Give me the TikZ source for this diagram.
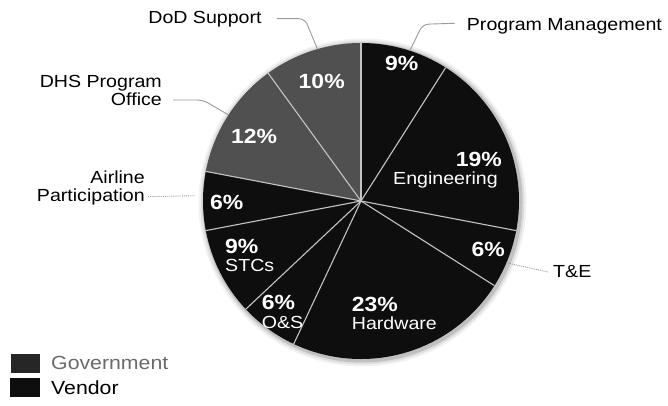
\documentclass[tikz,border=0pt]{standalone}
\usepackage{fontspec}
\setmainfont{Liberation Sans}[FakeStretch=1.12]
\usetikzlibrary{calc}
\definecolor{gov}{HTML}{505050}
\definecolor{govkeyc}{HTML}{262626}
\definecolor{ven}{HTML}{0E0E0E}
\definecolor{sepc}{HTML}{C4C4C4}
\definecolor{lead}{HTML}{9A9A9A}
\definecolor{govtext}{HTML}{6A6A6A}
\begin{document}
\begin{tikzpicture}[x=1pt,y=1pt,
  outer/.style={font=\fontsize{17.5}{18.5}\selectfont, inner sep=0pt, text=black},
  pct/.style={font=\fontsize{20.5}{20.5}\selectfont\bfseries, text=white, inner sep=0pt, anchor=base},
  sname/.style={font=\fontsize{17.5}{17.5}\selectfont, text=white, inner sep=0pt},
  legtext/.style={font=\fontsize{19}{19}\selectfont, inner sep=0pt, anchor=base west},
  leader/.style={draw=lead, line width=0.9pt, rounded corners=6pt},
  dotleader/.style={draw=lead, line width=0.9pt, densely dotted},
  sepline/.style={draw=sepc, line width=1.1pt},
  govslice/.style={fill=gov},
  venslice/.style={fill=ven},
]
\useasboundingbox (0,0) rectangle (668,406);
\coordinate (c) at (361,205);
% soft shadow
\foreach \w/\o in {6/0.05,4/0.08,2/0.14}
  \fill[black, opacity=\o] ($(c)+(1.5,-1.5)$) circle[radius={158pt+\w pt}];
% slices
\foreach \a/\b/\s in {57.6/90/venslice, -10.8/57.6/venslice, -32.4/-10.8/venslice,
  -115.2/-32.4/venslice, -136.8/-115.2/venslice, -169.2/-136.8/venslice,
  169.2/190.8/venslice, 126/169.2/govslice, 90/126/govslice}
  \path[\s] (c) -- +(\a:158pt) arc[start angle=\a, end angle=\b, radius=158pt] -- cycle;
% separators
\foreach \a in {90,57.6,-10.8,-32.4,-115.2,-136.8,-169.2,169.2,126}
  \draw[sepline] (c) -- +(\a:158pt);
% slice labels
\node[pct] (p9) at (401.7,335.5) {9\%};
\node[pct] (p10) at (321.7,317) {10\%};
\node[pct] (p12) at (254,262) {12\%};
\node[pct, anchor=base east] (p19) at (502,239) {19\%};
\node[sname, anchor=base east] (l19) at (498,221.7) {Engineering};
\node[pct] (p6te) at (488.3,149.3) {6\%};
\node[pct, anchor=base west] (p23) at (351.7,94.3) {23\%};
\node[sname, anchor=base west] (l23) at (351.7,76) {Hardware};
\node[pct, anchor=base west] (p6os) at (261.7,96) {6\%};
\node[sname, anchor=base west] (l6os) at (261.7,77.7) {O\&S};
\node[pct, anchor=base west] (p9s) at (225,152) {9\%};
\node[sname, anchor=base west] (l9s) at (225,134.3) {STCs};
\node[pct] (p6a) at (226.7,196) {6\%};
% outer labels
\node[outer, anchor=base] (dod) at (205,382) {DoD Support};
\node[outer, anchor=base west] (pm) at (466.7,375) {Program Management};
\node[outer, align=right, anchor=base east] (dhs) at (162,300) {DHS Program\\Office};
\node[outer, align=right, anchor=base east] (air) at (145,204.3) {Airline\\Participation};
\node[outer, anchor=base west] (te) at (553,128) {T\&E};
% leader ends on the pie
\coordinate (dodEnd) at ($(c)+(106:158pt)$);
\coordinate (pmEnd) at ($(c)+(72:158pt)$);
\coordinate (dhsEnd) at ($(c)+(147:158pt)$);
\coordinate (airEnd) at ($(c)+(178:158pt)$);
\coordinate (teEnd) at ($(c)+(-23:158pt)$);
% leaders
\draw[leader] ($(dod.east)+(15,1)$) -- ++(28,0) -- (dodEnd);
\draw[leader] ($(pm.west)+(-12,3.5)$) -- ++(-32,-1) -- (pmEnd);
\draw[leader] ($(dhs.base east)+(11,6)$) -- ++(30,0) -- (dhsEnd);
\draw[dotleader, shorten >=8pt] ($(air.base east)+(3,5)$) -- (airEnd);
\draw[dotleader] (teEnd) -- ($(te.west)+(-5,0)$);
% legend
\fill[govkeyc] (11,33) rectangle (40,52) node[midway] (govkey) {};
\fill[ven] (10,9) rectangle (40,28) node[midway] (venkey) {};
\node[legtext, text=govtext] (govlab) at (51,36) {Government};
\node[legtext, text=black] (venlab) at (51,11) {Vendor};
\end{tikzpicture}
\end{document}
